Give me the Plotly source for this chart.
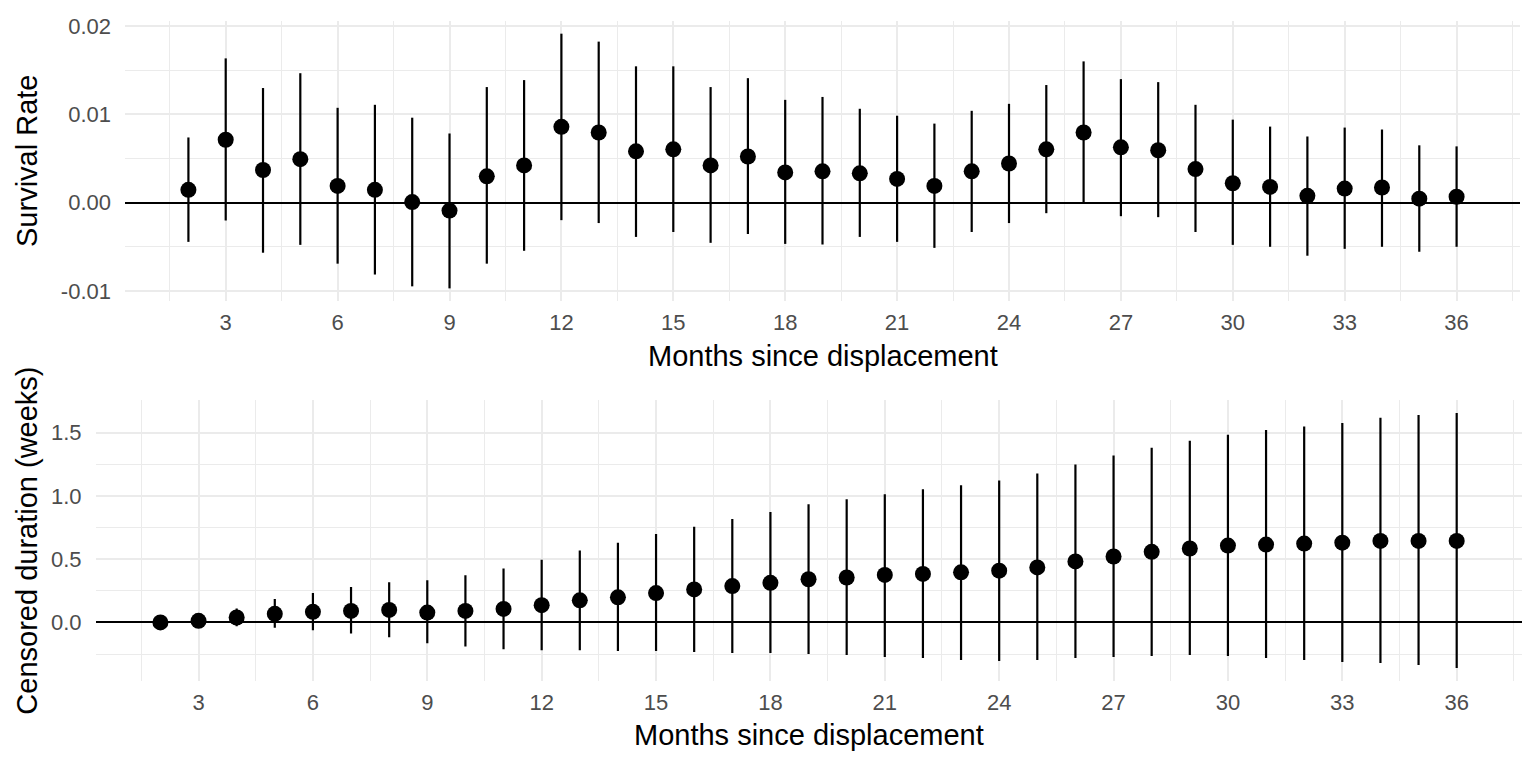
import plotly.graph_objects as go
from plotly.subplots import make_subplots

months = list(range(2, 37))

# Top panel: Survival Rate (point estimate, lower, upper)
surv_est = [0.00146, 0.00713, 0.00370, 0.00493, 0.00190, 0.00146, 0.00007, -0.00090,
            0.00299, 0.00422, 0.00859, 0.00795, 0.00582, 0.00605, 0.00422, 0.00523,
            0.00343, 0.00355, 0.00332, 0.00269, 0.00190, 0.00355, 0.00444, 0.00605,
            0.00795, 0.00627, 0.00594, 0.00381, 0.00220, 0.00179, 0.00078, 0.00160,
            0.00172, 0.00045, 0.00067]
surv_low = [-0.00444, -0.00202, -0.00567, -0.00478, -0.00691, -0.00814, -0.00948, -0.00971,
            -0.00691, -0.00545, -0.00198, -0.00231, -0.00388, -0.00332, -0.00455, -0.00355,
            -0.00467, -0.00474, -0.00388, -0.00444, -0.00512, -0.00332, -0.00231, -0.00119,
            0.00004, -0.00153, -0.00164, -0.00332, -0.00478, -0.00500, -0.00601, -0.00523,
            -0.00500, -0.00556, -0.00500]
surv_high = [0.00739, 0.01635, 0.01299, 0.01467, 0.01075, 0.01109, 0.00963, 0.00784,
             0.01310, 0.01389, 0.01915, 0.01825, 0.01545, 0.01545, 0.01310, 0.01411,
             0.01165, 0.01198, 0.01064, 0.00985, 0.00896, 0.01041, 0.01120, 0.01333,
             0.01601, 0.01400, 0.01366, 0.01109, 0.00941, 0.00862, 0.00750, 0.00851,
             0.00829, 0.00650, 0.00638]

# Bottom panel: Censored duration (weeks)
cens_est = [0.000, 0.013, 0.039, 0.068, 0.084, 0.091, 0.099, 0.078, 0.091, 0.107,
            0.136, 0.175, 0.198, 0.232, 0.261, 0.287, 0.313, 0.341, 0.355, 0.375,
            0.383, 0.396, 0.409, 0.435, 0.482, 0.521, 0.558, 0.584, 0.607, 0.615,
            0.623, 0.630, 0.644, 0.644, 0.644]
cens_low = [-0.005, -0.010, -0.030, -0.041, -0.062, -0.088, -0.117, -0.164, -0.190, -0.211,
            -0.219, -0.219, -0.226, -0.226, -0.234, -0.242, -0.242, -0.250, -0.258, -0.273,
            -0.281, -0.297, -0.305, -0.297, -0.281, -0.273, -0.266, -0.258, -0.266, -0.281,
            -0.297, -0.312, -0.320, -0.336, -0.359]
cens_high = [0.005, 0.035, 0.110, 0.185, 0.232, 0.279, 0.318, 0.334, 0.373, 0.427,
             0.495, 0.568, 0.630, 0.698, 0.755, 0.818, 0.873, 0.933, 0.974, 1.013,
             1.052, 1.083, 1.122, 1.177, 1.248, 1.318, 1.380, 1.435, 1.482, 1.521,
             1.547, 1.576, 1.617, 1.638, 1.654]

x_ticks = [3, 6, 9, 12, 15, 18, 21, 24, 27, 30, 33, 36]
x_ticktext = ["3", "6", "9", "12", "15", "18", "21", "24", "27", "30", "33", "36"]
top_yticks = [-0.01, 0.0, 0.01, 0.02]
top_yticktext = ["-0.01", "0.00", "0.01", "0.02"]
bot_yticks = [0.0, 0.5, 1.0, 1.5]
bot_yticktext = ["0.0", "0.5", "1.0", "1.5"]

x_title = "Months since displacement"
top_y_title = "Survival Rate"
bot_y_title = "Censored duration (weeks)"

FONT = "Liberation Sans, Arial, Helvetica, sans-serif"
GRID = "#EBEBEB"
TICKC = "#4D4D4D"

fig = make_subplots(rows=2, cols=1)

fig.add_trace(go.Scatter(
    x=months, y=surv_est, mode="markers",
    marker=dict(color="black", size=16),
    error_y=dict(type="data", symmetric=False,
                 array=[h - e for h, e in zip(surv_high, surv_est)],
                 arrayminus=[e - l for e, l in zip(surv_est, surv_low)],
                 color="black", thickness=2.2, width=0),
    showlegend=False, hoverinfo="skip"), row=1, col=1)

fig.add_trace(go.Scatter(
    x=months, y=cens_est, mode="markers",
    marker=dict(color="black", size=16),
    error_y=dict(type="data", symmetric=False,
                 array=[h - e for h, e in zip(cens_high, cens_est)],
                 arrayminus=[e - l for e, l in zip(cens_est, cens_low)],
                 color="black", thickness=2.2, width=0),
    showlegend=False, hoverinfo="skip"), row=2, col=1)

W, H = 1536, 768

def xr(vals):
    lo, hi = min(vals), max(vals)
    pad = (hi - lo) * 0.05
    return [lo - pad, hi + pad]

def yr(lows, highs):
    lo, hi = min(lows), max(highs)
    pad = (hi - lo) * 0.05
    return [lo - pad, hi + pad]

common_x = dict(
    tickmode="array", tickvals=x_ticks, ticktext=x_ticktext,
    showgrid=True, gridcolor=GRID, gridwidth=1.6,
    minor=dict(dtick=1.5, tick0=0, showgrid=True, gridcolor=GRID, gridwidth=0.8),
    zeroline=False, showline=False, ticks="",
    tickfont=dict(family=FONT, size=22, color=TICKC),
    ticklabelstandoff=6,
    range=xr(months),
)

fig.update_xaxes(**common_x)
fig.update_xaxes(domain=[125 / W, 1520 / W], row=1, col=1)
fig.update_xaxes(domain=[95.6 / W, 1521.5 / W], row=2, col=1)

common_y = dict(
    showgrid=True, gridcolor=GRID, gridwidth=1.6,
    zeroline=True, zerolinecolor="black", zerolinewidth=2,
    showline=False, ticks="",
    tickfont=dict(family=FONT, size=22, color=TICKC),
    ticklabelstandoff=13,
)
fig.update_yaxes(**common_y)
fig.update_yaxes(tickmode="array", tickvals=top_yticks, ticktext=top_yticktext,
                 minor=dict(dtick=0.005, tick0=0, showgrid=True, gridcolor=GRID, gridwidth=0.8),
                 range=yr(surv_low, surv_high),
                 domain=[1 - 297.6 / H, 1 - 14.1 / H], row=1, col=1)
fig.update_yaxes(tickmode="array", tickvals=bot_yticks, ticktext=bot_yticktext,
                 minor=dict(dtick=0.25, tick0=0, showgrid=True, gridcolor=GRID, gridwidth=0.8),
                 range=yr(cens_low, cens_high),
                 domain=[1 - 681.6 / H, 1 - 398 / H], row=2, col=1)

title_font = dict(family=FONT, size=29, color="black")
annos = [
    dict(text=x_title, x=822.5 / W, y=1 - 353 / H, xanchor="center", yanchor="middle"),
    dict(text=x_title, x=809 / W, y=1 - 737 / H, xanchor="center", yanchor="middle"),
    dict(text=top_y_title, x=27 / W, y=1 - 155.8 / H, xanchor="center", yanchor="middle", textangle=-90),
    dict(text=bot_y_title, x=27 / W, y=1 - 540 / H, xanchor="center", yanchor="middle", textangle=-90),
]
for a in annos:
    fig.add_annotation(xref="paper", yref="paper", showarrow=False, font=title_font, **a)

fig.update_layout(
    width=W, height=H,
    margin=dict(l=0, r=0, t=0, b=0),
    paper_bgcolor="white", plot_bgcolor="white",
    font=dict(family=FONT),
)

fig.write_html(
    "out.html",
    config={"displayModeBar": False},
    post_script="document.body.style.margin='0';document.body.style.overflow='hidden';",
)
